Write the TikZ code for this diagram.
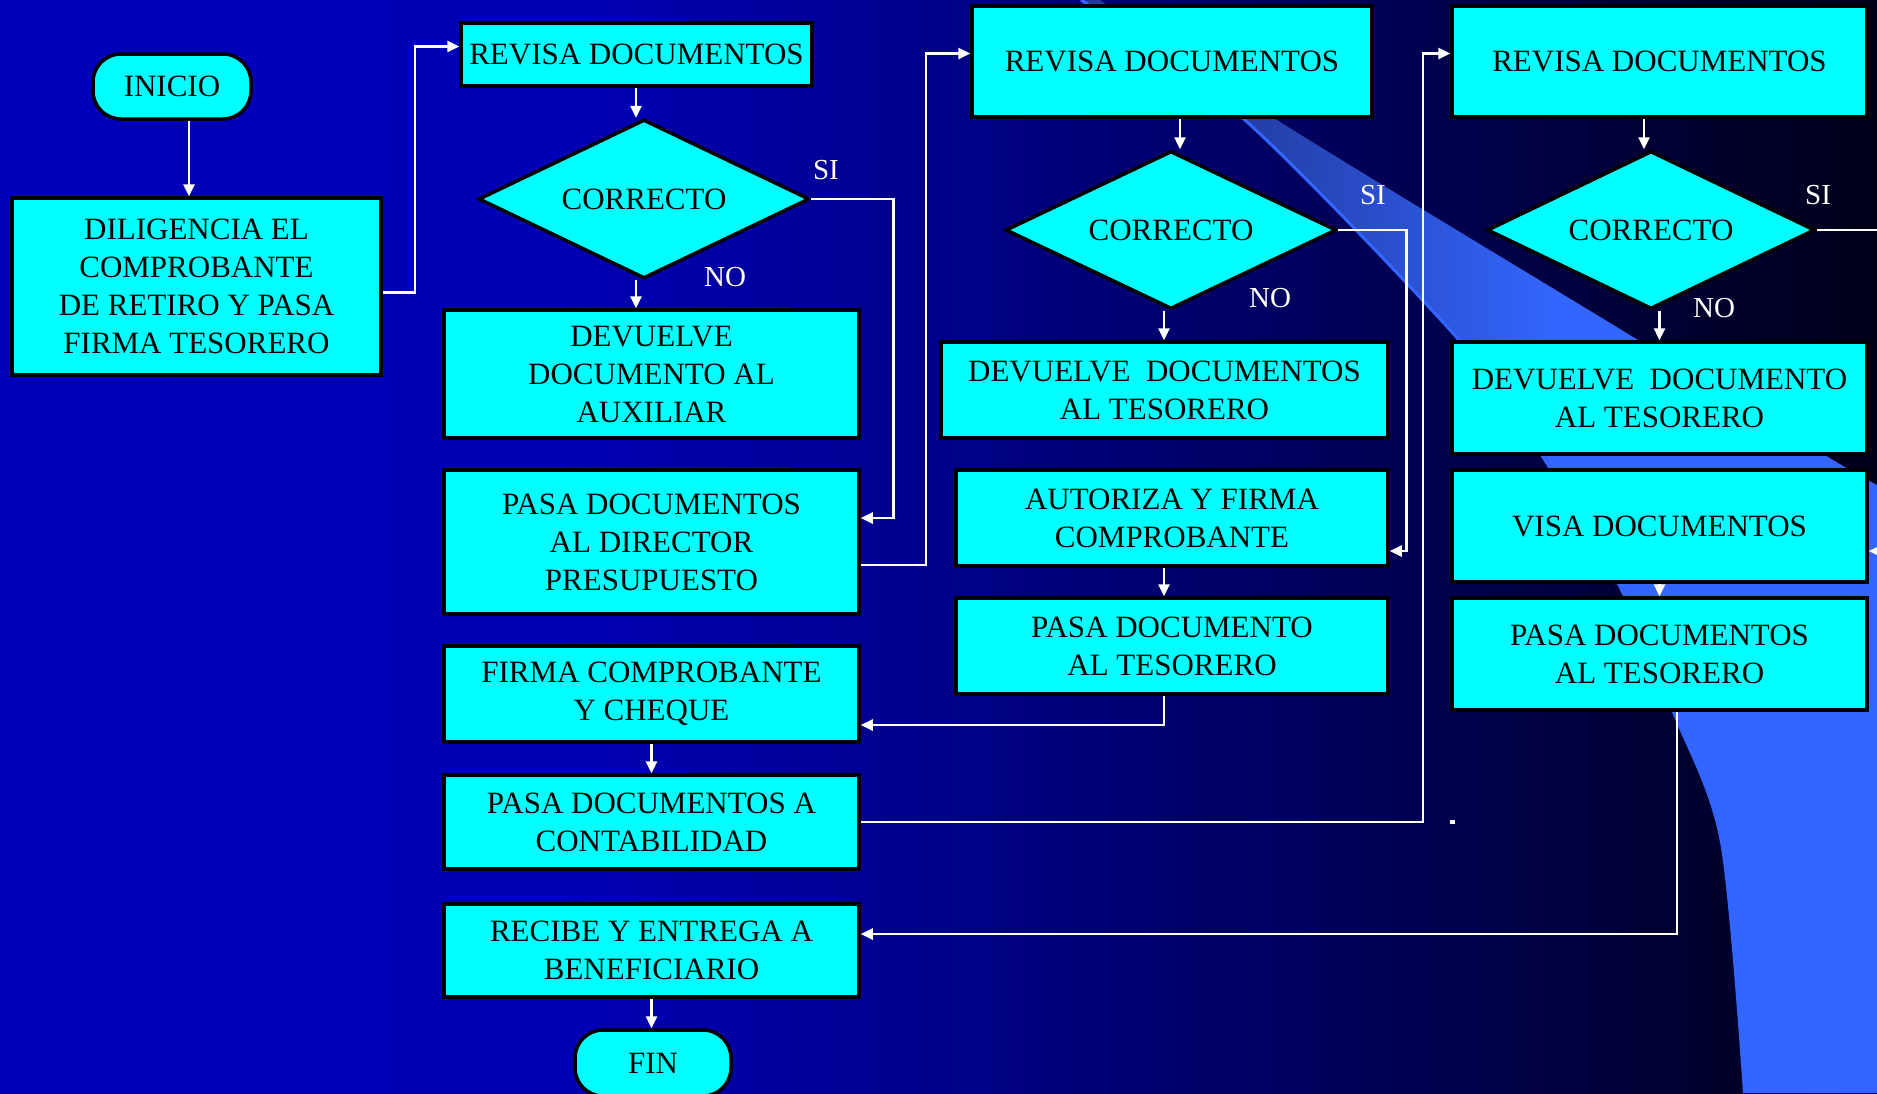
\documentclass[tikz,border=0pt]{standalone}
\usepackage{fontspec}
\setmainfont{Liberation Serif}
\usetikzlibrary{shapes.geometric,arrows.meta,calc}

\definecolor{bgA}{RGB}{0,0,187}
\definecolor{bgB}{RGB}{0,0,182}
\definecolor{bgC}{RGB}{0,0,26}
\definecolor{swA}{RGB}{34,58,158}
\definecolor{swB}{RGB}{51,102,255}
\definecolor{boxcyan}{RGB}{0,255,255}

% background: bright blue on the left fading to near black on the right
\pgfdeclarehorizontalshading{bgshade}{100bp}{color(0bp)=(bgA); color(25bp)=(bgA); color(40bp)=(bgB); color(75bp)=(bgC); color(100bp)=(bgC)}
% decorative sweep on the right
\pgfdeclarehorizontalshading{swshade}{100bp}{color(0bp)=(swA); color(34bp)=(swA); color(55bp)=(swB); color(100bp)=(swB)}

\tikzset{
  pbox/.style={rectangle, draw=black, line width=3.5pt, fill=boxcyan, inner sep=0pt,
    align=center, text=black, font=\fontsize{31}{38}\selectfont},
  term/.style={pbox, rounded corners=28pt},
  decis/.style={diamond, aspect=2.1, draw=black, line width=3.5pt, fill=boxcyan, inner sep=0pt,
    text=black, font=\fontsize{31}{38}\selectfont},
  lbl/.style={text=white, inner sep=0pt, font=\fontsize{29}{34}\selectfont},
  arr/.style={draw=white, line width=2.5pt, -{Triangle[width=11pt,length=12pt]}},
  wline/.style={draw=white, line width=2.5pt}
}

\begin{document}
\begin{tikzpicture}[x=1pt,y=-1pt]
\useasboundingbox (0,0) rectangle (1877,1093);
\clip (0,0) rectangle (1877,1093);

% background
\shade[shading=bgshade] (0,0) rectangle (1877,1093);

% sweep shape
\shade[shading=swshade]
  plot[smooth] coordinates {(1081,0) (1245,120) (1459,340) (1543,457) (1617,584) (1672,712) (1720,842) (1743,1093)}
  -- (1877,1093) -- (1877,485)
  -- plot[smooth] coordinates {(1877,485) (1828,457) (1638,340) (1277,120) (1100,0)}
  -- cycle;
\draw[swB, line width=3pt]
  plot[smooth] coordinates {(1081,0) (1245,120) (1459,340) (1543,457) (1617,584)};

% ---- column 1 and 2 ----
\node[term, minimum width=158pt, minimum height=65pt] (inicio) at (172,86.5) {INICIO};
\node[pbox, minimum width=369pt, minimum height=177pt] (dilig) at (196.5,286.5)
  {DILIGENCIA EL\\COMPROBANTE\\DE RETIRO Y PASA\\FIRMA TESORERO};
\node[pbox, minimum width=351pt, minimum height=63pt] (rev1) at (636.5,54.5) {REVISA DOCUMENTOS};
\node[decis, minimum width=331pt, minimum height=159pt] (dia1) at (644,199) {CORRECTO};
\node[pbox, minimum width=415pt, minimum height=128pt] (dev1) at (651.5,374)
  {DEVUELVE\\DOCUMENTO AL\\AUXILIAR};
\node[pbox, minimum width=415pt, minimum height=144pt] (pasa1) at (651.5,542)
  {PASA DOCUMENTOS\\AL DIRECTOR\\PRESUPUESTO};
\node[pbox, minimum width=415pt, minimum height=96pt] (firma) at (651.5,694)
  {FIRMA COMPROBANTE\\Y CHEQUE};
\node[pbox, minimum width=415pt, minimum height=94pt] (cont) at (651.5,822)
  {PASA DOCUMENTOS A\\CONTABILIDAD};
\node[pbox, minimum width=415pt, minimum height=93pt] (recibe) at (651.5,950.5)
  {RECIBE Y ENTREGA A\\BENEFICIARIO};
\node[term, minimum width=156pt, minimum height=66pt] (fin) at (653,1063) {FIN};

% ---- column 3 ----
\node[pbox, minimum width=400pt, minimum height=111pt] (rev2) at (1172,61.5) {REVISA DOCUMENTOS};
\node[decis, minimum width=331pt, minimum height=158pt] (dia2) at (1171,230) {CORRECTO};
\node[pbox, minimum width=447pt, minimum height=96pt] (dev2) at (1164.5,390)
  {DEVUELVE\ \ DOCUMENTOS\\AL TESORERO};
\node[pbox, minimum width=432pt, minimum height=96pt] (autoriza) at (1172,518)
  {AUTORIZA Y FIRMA\\COMPROBANTE};
\node[pbox, minimum width=432pt, minimum height=96pt] (pasa2) at (1172,646)
  {PASA DOCUMENTO\\AL TESORERO};

% ---- column 4 ----
\node[pbox, minimum width=415pt, minimum height=111pt] (rev3) at (1659.5,61.5) {REVISA DOCUMENTOS};
\node[decis, minimum width=328pt, minimum height=158pt] (dia3) at (1651,230) {CORRECTO};
\node[pbox, minimum width=415pt, minimum height=112pt] (dev3) at (1659.5,398)
  {DEVUELVE\ \ DOCUMENTO\\AL TESORERO};
\node[pbox, minimum width=415pt, minimum height=112pt] (visa) at (1659.5,526) {VISA DOCUMENTOS};
\node[pbox, minimum width=415pt, minimum height=112pt] (pasa3) at (1659.5,654)
  {PASA DOCUMENTOS\\AL TESORERO};

% ---- branch labels ----
\node[lbl] (si1) at (826,170) {SI};
\node[lbl] (no1) at (725,277) {NO};
\node[lbl] (si2) at (1373,195) {SI};
\node[lbl] (no2) at (1270,298) {NO};
\node[lbl] (si3) at (1818,195) {SI};
\node[lbl] (no3) at (1714,308) {NO};

% ---- connectors ----
\draw[arr] ([xshift=17pt]inicio.south) -- ([xshift=17pt]inicio.south |- dilig.north);
\draw[arr] ([yshift=-6pt]dilig.east) -- ++(32,0) |- ([yshift=8pt]rev1.west);
\draw[arr] ([xshift=-8pt]dia1.north |- rev1.south) -- ([xshift=-8pt]dia1.north);
\draw[arr] ([xshift=-8pt]dia1.south) -- ([xshift=-8pt]dia1.south |- dev1.north);
\draw[arr] (dia1.east) -- ++(82,0) |- ([yshift=24pt]pasa1.east);
\draw[arr] ([yshift=-23pt]pasa1.east) -- ++(65,0) |- ([yshift=8pt]rev2.west);
\draw[arr] (firma.south) -- (firma.south |- cont.north);
\draw[arr] (cont.east) -- ++(562,0) |- ([yshift=8pt]rev3.west);
\draw[arr] (recibe.south) -- (recibe.south |- fin.north);

\draw[arr] ([xshift=8pt]rev2.south) -- ([xshift=8pt]rev2.south |- dia2.north);
\draw[arr] ([xshift=-8pt]rev2.south |- dia2.south) -- ([xshift=-8pt]rev2.south |- dev2.north);
\draw[arr] (dia2.east) -- ++(68,0) |- ([yshift=-33pt]autoriza.east);
\draw[arr] ([xshift=-8pt]autoriza.south) -- ([xshift=-8pt]autoriza.south |- pasa2.north);
\draw[arr] ([xshift=-8pt]pasa2.south) |- ([yshift=-31pt]firma.east);

\draw[arr] ([xshift=-15.5pt]rev3.south) -- ([xshift=-15.5pt]rev3.south |- dia3.north);
\draw[arr] (dev3.north |- dia3.south) -- (dev3.north);
\draw[arr] (dia3.east) -- ++(80,0) |- ([yshift=-25pt]visa.east);
\draw[arr] (visa.south) -- (pasa3.north);
\draw[arr] ([xshift=17.5pt]pasa3.south) |- ([yshift=16.5pt]recibe.east);

% stray mark near the contabilidad line
\fill[white] (1450,820) rectangle (1455,824);
\end{tikzpicture}
\end{document}
